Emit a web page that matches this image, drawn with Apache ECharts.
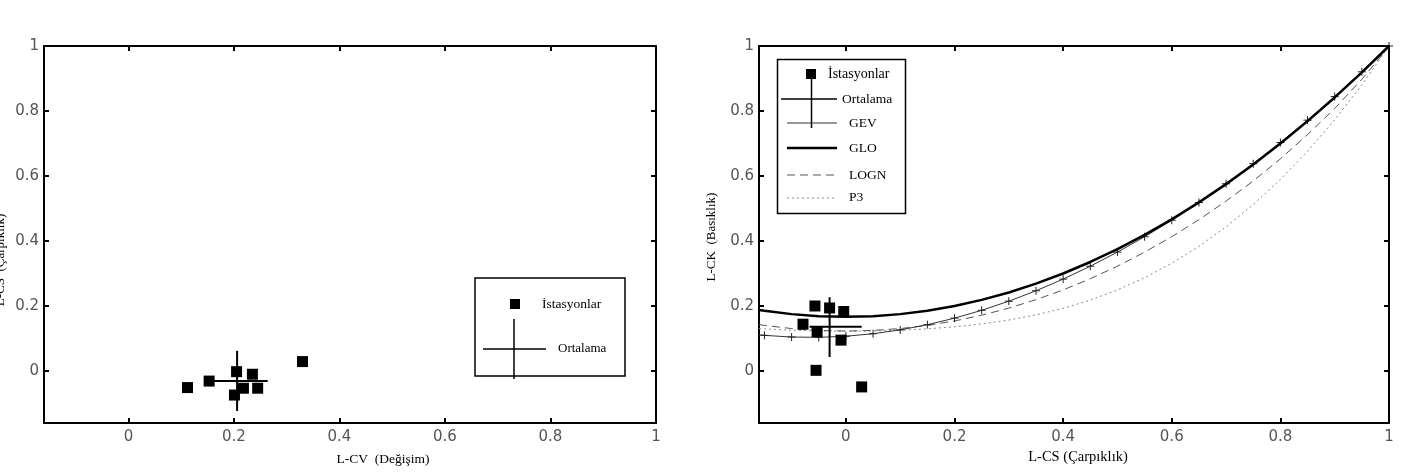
<!DOCTYPE html>
<html>
<head>
<meta charset="utf-8">
<script src="https://cdn.jsdelivr.net/npm/echarts@6/dist/echarts.min.js"></script>
<style>html,body{margin:0;padding:0;background:#fff}#c{width:1401px;height:474px}</style>
</head>
<body>
<div id="c"></div>
<script>
// ---- data ----
const tickValues = [0, 0.2, 0.4, 0.6, 0.8, 1];

// left panel: L-CV vs L-CS
const stationsLeft = [
  [0.112, -0.051], [0.153, -0.031], [0.205, -0.002], [0.235, -0.010],
  [0.218, -0.053], [0.245, -0.053], [0.201, -0.074], [0.330, 0.029]
];
const meanLeft = [0.206, -0.031];
const meanLeftXRange = [0.162, 0.264];
const meanLeftYRange = [-0.123, 0.062];

// right panel: L-CK vs L-CS
const stationsRight = [
  [-0.057, 0.200], [-0.030, 0.194], [-0.004, 0.183], [-0.079, 0.144],
  [-0.053, 0.121], [-0.009, 0.095], [-0.055, 0.002], [0.029, -0.049]
];
const meanRight = [-0.030, 0.136];
const meanRightXRange = [-0.067, 0.029];
const meanRightYRange = [0.043, 0.227];

const lcs = [-0.16, -0.15, -0.10, -0.05, 0.00, 0.05, 0.10, 0.15, 0.20, 0.25, 0.30, 0.35,
  0.40, 0.45, 0.50, 0.55, 0.60, 0.65, 0.70, 0.75, 0.80, 0.85, 0.90, 0.95, 1.00];
const gev = [0.1113, 0.1097, 0.1045, 0.1036, 0.1070, 0.1147, 0.1265, 0.1425, 0.1626, 0.1867,
  0.2148, 0.2468, 0.2827, 0.3224, 0.3659, 0.4130, 0.4638, 0.5182, 0.5762, 0.6378, 0.7030,
  0.7718, 0.8443, 0.9206, 1.0000];
const glo = [0.1880, 0.1854, 0.1750, 0.1688, 0.1667, 0.1688, 0.1750, 0.1854, 0.2000, 0.2188,
  0.2417, 0.2688, 0.3000, 0.3354, 0.3750, 0.4188, 0.4667, 0.5188, 0.5750, 0.6354, 0.7000,
  0.7688, 0.8417, 0.9188, 1.0000];
const logn = [0.1428, 0.1403, 0.1306, 0.1248, 0.1228, 0.1248, 0.1306, 0.1403, 0.1540, 0.1717,
  0.1935, 0.2194, 0.2495, 0.2839, 0.3226, 0.3657, 0.4134, 0.4656, 0.5227, 0.5848, 0.6526,
  0.7274, 0.8077, 0.8976, 0.9981];
const p3 = [0.1307, 0.1297, 0.1255, 0.1232, 0.1224, 0.1232, 0.1255, 0.1297, 0.1359, 0.1448,
  0.1569, 0.1727, 0.1929, 0.2182, 0.2494, 0.2869, 0.3314, 0.3835, 0.4436, 0.5120, 0.5894,
  0.6761, 0.7729, 0.8806, 1.0000];

// ---- chart ----
const chart = echarts.init(document.getElementById('c'), null, {renderer: 'canvas'});
const zip = (xs, ys) => xs.map((x, i) => [x, ys[i]]);
const labelFont = {fontFamily: 'DejaVu Sans', fontSize: 15, color: '#555'};
const serif = 'Liberation Serif';

function xAx(grid, pos, labels) {
  return {
    type: 'value', gridIndex: grid, position: pos, min: -0.16, max: 1,
    axisLine: {show: true, onZero: false, lineStyle: {color: '#000', width: 2}},
    axisTick: {show: true, inside: true, length: 5, customValues: tickValues, lineStyle: {color: '#000', width: 2}},
    axisLabel: Object.assign({show: labels, margin: 7, customValues: tickValues}, labelFont),
    splitLine: {show: false}
  };
}
function yAx(grid, pos, labels) {
  return {
    type: 'value', gridIndex: grid, position: pos, min: -0.16, max: 1,
    axisLine: {show: true, onZero: false, lineStyle: {color: '#000', width: 2}},
    axisTick: {show: true, inside: true, length: 5, customValues: tickValues, lineStyle: {color: '#000', width: 2}},
    axisLabel: Object.assign({show: labels, margin: 5, customValues: tickValues}, labelFont),
    splitLine: {show: false}
  };
}

const plusSymbol = 'path://M0,5L10,5M5,0L5,10';
const crossStyle = {color: '#000', width: 2};

function seg(a, b, xi, yi) {
  return {type: 'line', xAxisIndex: xi, yAxisIndex: yi, data: [a, b], symbol: 'none',
    lineStyle: crossStyle, z: 5, silent: true};
}

const series = [
  // left panel
  {type: 'scatter', xAxisIndex: 0, yAxisIndex: 0, data: stationsLeft, symbol: 'rect', symbolSize: 11,
    itemStyle: {color: '#000', opacity: 1}, z: 4},
  seg([meanLeftXRange[0], meanLeft[1]], [meanLeftXRange[1], meanLeft[1]], 0, 0),
  seg([meanLeft[0], meanLeftYRange[0]], [meanLeft[0], meanLeftYRange[1]], 0, 0),
  // right panel curves
  {type: 'line', xAxisIndex: 2, yAxisIndex: 2, data: zip(lcs, p3), symbol: 'none',
    lineStyle: {color: '#8a8a8a', width: 1, type: [2, 3]}, z: 2},
  {type: 'line', xAxisIndex: 2, yAxisIndex: 2, data: zip(lcs, logn), symbol: 'none',
    lineStyle: {color: '#555', width: 1, type: [8, 5]}, z: 2},
  {type: 'line', xAxisIndex: 2, yAxisIndex: 2,
    data: zip(lcs, gev).map((p, i) => i === 0 ? {value: p, symbol: 'none'} : {value: p}),
    symbol: plusSymbol, symbolSize: 8, showSymbol: true,
    itemStyle: {color: 'none', borderColor: '#222', borderWidth: 1},
    lineStyle: {color: '#333', width: 1}, z: 2},
  {type: 'line', xAxisIndex: 2, yAxisIndex: 2, data: zip(lcs, glo), symbol: 'none',
    lineStyle: {color: '#000', width: 2.5}, z: 3},
  {type: 'scatter', xAxisIndex: 2, yAxisIndex: 2, data: stationsRight, symbol: 'rect', symbolSize: 11,
    itemStyle: {color: '#000', opacity: 1}, z: 4},
  seg([meanRightXRange[0], meanRight[1]], [meanRightXRange[1], meanRight[1]], 2, 2),
  seg([meanRight[0], meanRightYRange[0]], [meanRight[0], meanRightYRange[1]], 2, 2)
];

const txt = (x, y, text, size, align) => ({type: 'text', x: x, y: y, z: 20,
  style: {text: text, fontFamily: serif, fontSize: size || 13, fill: '#000',
    textAlign: align || 'left', textVerticalAlign: 'middle'}});
const ln = (x1, y1, x2, y2, w, dash, col) => ({type: 'line', z: 20,
  shape: {x1: x1, y1: y1, x2: x2, y2: y2},
  style: {stroke: col || '#000', lineWidth: w || 1, lineDash: dash || null}});

const graphic = [
  // axis names
  txt(383, 459, 'L-CV  (Değişim)', 13.5, 'center'),
  txt(1078, 457, 'L-CS (Çarpıklık)', 14.5, 'center'),
  {type: 'text', x: 712, y: 237, rotation: Math.PI / 2, z: 20,
    style: {text: 'L-CK  (Basıklık)', fontFamily: serif, fontSize: 13, fill: '#000', textAlign: 'center', textVerticalAlign: 'middle'}},
  {type: 'text', x: 1, y: 260, rotation: Math.PI / 2, z: 20,
    style: {text: 'L-CS  (Çarpıklık)', fontFamily: serif, fontSize: 13, fill: '#000', textAlign: 'center', textVerticalAlign: 'middle'}},
  // left legend
  {type: 'rect', z: 19, shape: {x: 475, y: 278, width: 150, height: 98},
    style: {fill: '#fff', stroke: '#000', lineWidth: 1.5}},
  {type: 'rect', z: 20, shape: {x: 510, y: 299, width: 10, height: 10}, style: {fill: '#000'}},
  txt(542, 304, 'İstasyonlar', 13.5),
  ln(483, 349, 546, 349, 1.5),
  ln(514, 319, 514, 379, 1.5),
  txt(558, 349, 'Ortalama', 13),
  // right legend
  {type: 'rect', z: 19, shape: {x: 777.5, y: 59.5, width: 128, height: 154},
    style: {fill: '#fff', stroke: '#000', lineWidth: 1.5}},
  {type: 'rect', z: 20, shape: {x: 806, y: 69, width: 10, height: 10}, style: {fill: '#000'}},
  txt(828, 74, 'İstasyonlar', 14),
  ln(781, 99, 837, 99, 1.5),
  ln(811.5, 74, 811.5, 128, 1.5),
  txt(842, 99, 'Ortalama', 13.5),
  ln(787, 123, 837, 123, 1, null, '#333'),
  txt(849, 123, 'GEV', 13.5),
  ln(787, 148, 837, 148, 2.5),
  txt(849, 148, 'GLO', 13.5),
  ln(787, 175, 837, 175, 1, [8, 5], '#555'),
  txt(849, 175, 'LOGN', 13.5),
  ln(787, 198, 837, 198, 1, [2, 3], '#8a8a8a'),
  txt(849, 197, 'P3', 13.5)
];

chart.setOption({
  animation: false,
  backgroundColor: '#fff',
  grid: [
    {left: 44, right: 745, top: 46, bottom: 51},
    {left: 759, right: 12, top: 46, bottom: 51}
  ],
  xAxis: [xAx(0, 'bottom', true), xAx(0, 'top', false), xAx(1, 'bottom', true), xAx(1, 'top', false)],
  yAxis: [yAx(0, 'left', true), yAx(0, 'right', false), yAx(1, 'left', true), yAx(1, 'right', false)],
  series: series,
  graphic: graphic
});
</script>
</body>
</html>
